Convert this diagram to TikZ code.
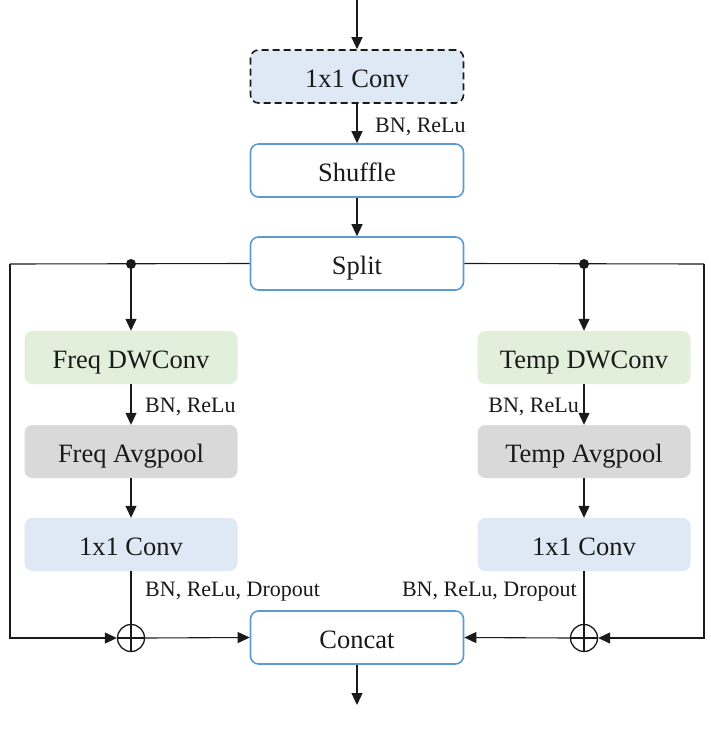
\documentclass[tikz,border=0pt]{standalone}
\usepackage{fontspec}
\setmainfont{Liberation Serif}
\usetikzlibrary{arrows.meta}
\definecolor{bord}{HTML}{5B9BD5}
\definecolor{lblue}{HTML}{DEE9F5}
\definecolor{lgreen}{HTML}{E2EFDA}
\definecolor{lgray}{HTML}{D9D9D9}
\definecolor{ink}{HTML}{1A1A1A}
\tikzset{
  box/.style={rounded corners=8pt, minimum width=213pt, minimum height=53pt, inner sep=0pt,
    text height=21pt, text depth=0pt,
    font=\fontsize{26.5}{30}\selectfont, text=ink},
  wbox/.style={box, draw=bord, line width=1.6pt, fill=white},
  cbox/.style={box, fill=#1},
  lbl/.style={font=\fontsize{22}{26}\selectfont, text=ink, inner sep=0pt},
  arr/.style={-{Triangle[length=12pt,width=11pt]}, line width=1.1pt, draw=ink},
  ln/.style={line width=1.1pt, draw=ink},
  opl/.style={circle, draw=ink, line width=1.3pt, minimum size=27pt, inner sep=0pt}
}
\begin{document}
\begin{tikzpicture}[x=1pt,y=-1pt]
\useasboundingbox (0,0) rectangle (710,736);
% main column
\node[box, draw=ink, dashed, dash pattern=on 7pt off 4pt, line width=1.6pt, fill=lblue] (conv0) at (357,76.5) {1x1 Conv};
\node[wbox] (shuffle) at (357,170.5) {Shuffle};
\node[wbox] (split) at (357,263.5) {Split};
\node[wbox] (concat) at (357,637.5) {Concat};
\coordinate (top) at (357,0);
\coordinate (bot) at (357,705);
% left column
\node[cbox=lgreen] (fdw) at (131,357.5) {Freq DWConv};
\node[cbox=lgray] (fap) at (131,451.5) {Freq Avgpool};
\node[cbox=lblue] (fcv) at (131,544.5) {1x1 Conv};
\node[opl] (oL) at (131,638) {};
% right column
\node[cbox=lgreen] (tdw) at (584,357.5) {Temp DWConv};
\node[cbox=lgray] (tap) at (584,451.5) {Temp Avgpool};
\node[cbox=lblue] (tcv) at (584,544.5) {1x1 Conv};
\node[opl] (oR) at (584,638) {};
% junctions
\coordinate (dL) at (131,264);
\coordinate (dR) at (584,264);
\coordinate (cL) at (10,264);
\coordinate (cR) at (704,264);
% main flow
\draw[arr] (top) -- (conv0.north);
\draw[arr] (conv0.south) -- (shuffle.north);
\draw[arr] (shuffle.south) -- (split.north);
\draw[arr] (concat.south) -- (bot);
% split lines
\draw[ln] (split.west) -- (cL);
\draw[ln] (split.east) -- (cR);
\fill[ink] (dL) circle (5);
\fill[ink] (dR) circle (5);
\draw[arr] (dL) -- (fdw.north);
\draw[arr] (dR) -- (tdw.north);
\draw[arr] (fdw.south) -- (fap.north);
\draw[arr] (fap.south) -- (fcv.north);
\draw[arr] (tdw.south) -- (tap.north);
\draw[arr] (tap.south) -- (tcv.north);
\draw[ln] (fcv.south) -- (oL.north);
\draw[ln] (tcv.south) -- (oR.north);
% bypass lines
\draw[arr] (cL) |- (oL.west);
\draw[arr] (cR) |- (oR.east);
\draw[arr] (oL.east) -- (concat.west);
\draw[arr] (oR.west) -- (concat.east);
% oplus crosses
\draw[ln, line width=1.3pt] (oL.north) -- (oL.south) (oL.west) -- (oL.east);
\draw[ln, line width=1.3pt] (oR.north) -- (oR.south) (oR.west) -- (oR.east);
% labels
\node[lbl, anchor=west] (l0) at (375,127) {BN, ReLu};
\node[lbl, anchor=west] (l1) at (145,407) {BN, ReLu};
\node[lbl, anchor=east] (l2) at (579,407) {BN, ReLu};
\node[lbl, anchor=west] (l3) at (145,592) {BN, ReLu, Dropout};
\node[lbl, anchor=east] (l4) at (577,592) {BN, ReLu, Dropout};
\end{tikzpicture}
\end{document}
